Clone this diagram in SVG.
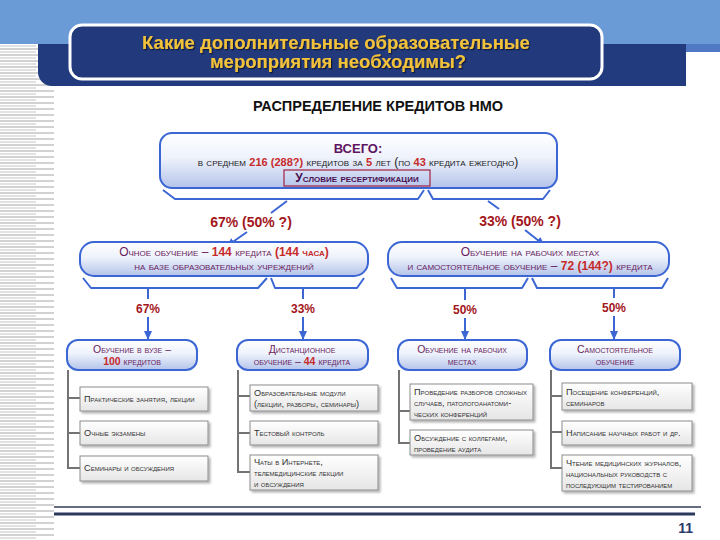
<svg xmlns="http://www.w3.org/2000/svg" width="720" height="540" viewBox="0 0 720 540">
<defs>
<linearGradient id="bg" x1="0" y1="0" x2="0" y2="1">
<stop offset="0" stop-color="#ffffff"/><stop offset="0.45" stop-color="#eef2fb"/><stop offset="1" stop-color="#b3c3ea"/>
</linearGradient>
<linearGradient id="lg" x1="0" y1="0" x2="0" y2="1">
<stop offset="0" stop-color="#ffffff"/><stop offset="1" stop-color="#e6e6e6"/>
</linearGradient>
<pattern id="stripes" width="54" height="6" patternUnits="userSpaceOnUse">
<rect width="54" height="6" fill="#ffffff"/>
<line x1="0" y1="1" x2="54" y2="1" stroke="#a6a6a6" stroke-width="1"/>
<line x1="0" y1="4" x2="36" y2="4" stroke="#c6c6c6" stroke-width="1"/>
</pattern>
<filter id="sh" x="-10%" y="-20%" width="125%" height="150%">
<feDropShadow dx="2" dy="2" stdDeviation="0.8" flood-color="#000" flood-opacity="0.3"/>
</filter>
<filter id="tsh" x="-5%" y="-20%" width="110%" height="150%">
<feDropShadow dx="1.2" dy="1.2" stdDeviation="0.4" flood-color="#0b1430" flood-opacity="0.9"/>
</filter>
<marker id="ah" markerWidth="9" markerHeight="8" refX="8" refY="4" orient="auto" markerUnits="userSpaceOnUse">
<path d="M0,0 L9,4 L0,8 Z" fill="#3b66d4"/>
</marker>
<style>
.t{font-family:"Liberation Sans",Arial,sans-serif}
.sc{font-variant:small-caps}
.box{fill:url(#bg);stroke:#3b66d4;stroke-width:2}
.leaf{fill:url(#lg);stroke:#8c8c8c;stroke-width:1;filter:url(#sh)}
.brace{fill:none;stroke:#3b66d4;stroke-width:2;stroke-linejoin:round}
.arr{stroke:#3b66d4;stroke-width:2;fill:none}
.tree{stroke:#737373;stroke-width:2;fill:none}
.pct{font-weight:bold;fill:#a3161c}
.pu{fill:#6a1d5e}
.rd{fill:#c72a2a;font-weight:bold}
.lt{font-size:9.2px;fill:#333333}
</style>
</defs>

<g id="background">
<rect x="0" y="0" width="720" height="540" fill="#ffffff"/>
<rect x="0" y="0" width="720" height="44" fill="#6b9bd7"/>
<rect x="686" y="44" width="34" height="8" fill="#4f79c4"/>
<rect x="0" y="44" width="54" height="496" fill="url(#stripes)"/>
<path d="M38,44 H686 V86 H52 A14,14 0 0 1 38,72 Z" fill="#223a7e"/>
<rect x="70" y="25" width="532" height="54" rx="12" fill="#223a7c" stroke="#ffffff" stroke-width="3"/>
<g class="t" font-weight="bold" font-size="18.5" fill="#f2c23a" text-anchor="middle" filter="url(#tsh)">
<text x="336" y="49">Какие дополнительные образовательные</text>
<text x="338" y="68">мероприятия необходимы?</text>
</g>
<text class="t" x="378" y="111" text-anchor="middle" font-weight="bold" font-size="14.5" fill="#111111">РАСПРЕДЕЛЕНИЕ КРЕДИТОВ НМО</text>
<line x1="54" y1="507" x2="701" y2="507" stroke="#333d55" stroke-width="1.5"/>
<line x1="54" y1="514" x2="695" y2="514" stroke="#2b3a5c" stroke-width="3"/>
<text class="t" x="693" y="533" text-anchor="end" font-weight="bold" font-size="14" fill="#2a3a6a">11</text>
</g>

<g id="connectors">
<polyline class="brace" points="163,190 175,199 418,199 424,190"/>
<polyline class="brace" points="428,190 433,199 543,199 550,190"/>
<line class="arr" x1="287" y1="201" x2="271" y2="213"/>
<line class="arr" x1="247" y1="232" x2="227" y2="246" marker-end="url(#ah)"/>
<line class="arr" x1="488" y1="201" x2="499" y2="209"/>
<line class="arr" x1="525" y1="230" x2="544" y2="245" marker-end="url(#ah)"/>
<polyline class="brace" points="83,278 91,288 258,288 267,278"/>
<polyline class="brace" points="271,278 275,288 357,288 364,278"/>
<polyline class="brace" points="391,278 397,288 522,288 528,278"/>
<polyline class="brace" points="532,278 537,288 662,288 668,278"/>
<line class="arr" x1="148" y1="288" x2="148" y2="299"/>
<line class="arr" x1="148" y1="317" x2="148" y2="339" marker-end="url(#ah)"/>
<line class="arr" x1="303" y1="288" x2="303" y2="299"/>
<line class="arr" x1="303" y1="317" x2="303" y2="339" marker-end="url(#ah)"/>
<line class="arr" x1="465" y1="288" x2="465" y2="300"/>
<line class="arr" x1="465" y1="318" x2="465" y2="339" marker-end="url(#ah)"/>
<line class="arr" x1="614" y1="288" x2="614" y2="298"/>
<line class="arr" x1="614" y1="316" x2="614" y2="339" marker-end="url(#ah)"/>
<g class="t pct">
<text x="251" y="227" text-anchor="middle" font-size="14">67% (50% ?)</text>
<text x="520" y="226" text-anchor="middle" font-size="14">33% (50% ?)</text>
<text x="148" y="313" text-anchor="middle" font-size="12">67%</text>
<text x="303" y="313" text-anchor="middle" font-size="12">33%</text>
<text x="465" y="314" text-anchor="middle" font-size="12">50%</text>
<text x="614" y="312" text-anchor="middle" font-size="12">50%</text>
</g>
<polyline class="tree" points="68,370 68,468 80,468"/>
<line class="tree" x1="68" y1="398" x2="80" y2="398"/>
<line class="tree" x1="68" y1="433" x2="80" y2="433"/>
<polyline class="tree" points="238,370 238,472 250,472"/>
<line class="tree" x1="238" y1="396" x2="250" y2="396"/>
<line class="tree" x1="238" y1="433" x2="250" y2="433"/>
<polyline class="tree" points="399,370 399,443 411,443"/>
<line class="tree" x1="399" y1="411" x2="411" y2="411"/>
<polyline class="tree" points="551,370 551,468 562,468"/>
<line class="tree" x1="551" y1="396" x2="562" y2="396"/>
<line class="tree" x1="551" y1="432" x2="562" y2="432"/>
</g>

<g id="total">
<rect class="box" x="160" y="133" width="397" height="55" rx="12"/>
<text class="t" x="358" y="153" text-anchor="middle" font-weight="bold" font-size="13" fill="#5e1460">ВСЕГО:</text>
<text class="t sc" x="358" y="166" text-anchor="middle" font-size="12" fill="#1a1a1a">в среднем <tspan class="rd" font-size="11">216 (288?)</tspan> кредитов за <tspan class="rd" font-size="11">5</tspan> лет (по <tspan class="rd" font-size="11">43</tspan> кредита ежегодно)</text>
<rect x="284" y="170" width="146" height="16" fill="none" stroke="#a3203f" stroke-width="1.2"/>
<text class="t sc" x="357" y="182" text-anchor="middle" font-weight="bold" font-size="12" fill="#4a1050">Условие ресертификации</text>
</g>

<g id="fulltime">
<rect class="box" x="80" y="242" width="288" height="34" rx="14"/>
<text class="t sc pu" x="224" y="256" text-anchor="middle" font-size="12">Очное обучение – <tspan class="rd">144</tspan> кредита <tspan class="rd">(144 часа)</tspan></text>
<text class="t sc pu" x="224" y="270" text-anchor="middle" font-size="12">на базе образовательных учреждений</text>
</g>

<g id="workplace">
<rect class="box" x="388" y="242" width="281" height="34" rx="14"/>
<text class="t sc pu" x="530" y="256" text-anchor="middle" font-size="12">Обучение на рабочих местах</text>
<text class="t sc pu" x="530" y="270" text-anchor="middle" font-size="12">и самостоятельное обучение – <tspan class="rd">72 (144?)</tspan> кредита</text>
</g>

<g id="university">
<rect class="box" x="67" y="340" width="130" height="30" rx="11"/>
<text class="t sc pu" x="132" y="353" text-anchor="middle" font-size="10.5">Обучение в вузе –</text>
<text class="t sc pu" x="132" y="365" text-anchor="middle" font-size="10.5"><tspan class="rd">100</tspan> кредитов</text>
</g>

<g id="distance">
<rect class="box" x="237" y="340" width="131" height="30" rx="11"/>
<text class="t sc pu" x="302" y="353" text-anchor="middle" font-size="10.5">Дистанционное</text>
<text class="t sc pu" x="302" y="365" text-anchor="middle" font-size="10.5">обучение – <tspan class="rd">44</tspan> кредита</text>
</g>

<g id="onjob">
<rect class="box" x="398" y="340" width="129" height="30" rx="11"/>
<text class="t sc pu" x="462" y="353" text-anchor="middle" font-size="10.5">Обучение на рабочих</text>
<text class="t sc pu" x="462" y="365" text-anchor="middle" font-size="10.5">местах</text>
</g>

<g id="selfstudy">
<rect class="box" x="550" y="340" width="130" height="30" rx="11"/>
<text class="t sc pu" x="615" y="353" text-anchor="middle" font-size="10.5">Самостоятельное</text>
<text class="t sc pu" x="615" y="365" text-anchor="middle" font-size="10.5">обучение</text>
</g>

<g id="u1"><rect class="leaf" x="80" y="387" width="128" height="24"/>
<text class="t sc lt" x="84" y="402">Практические занятия, лекции</text></g>
<g id="u2"><rect class="leaf" x="80" y="421" width="128" height="24"/>
<text class="t sc lt" x="84" y="436">Очные экзамены</text></g>
<g id="u3"><rect class="leaf" x="80" y="456" width="128" height="25"/>
<text class="t sc lt" x="84" y="471">Семинары и обсуждения</text></g>

<g id="d1"><rect class="leaf" x="250" y="385" width="128" height="26"/>
<text class="t sc lt" x="254" y="396">Образовательные модули</text>
<text class="t sc lt" x="254" y="407">(лекции, разборы, семинары)</text></g>
<g id="d2"><rect class="leaf" x="250" y="421" width="128" height="24"/>
<text class="t sc lt" x="254" y="436">Тестовый контроль</text></g>
<g id="d3"><rect class="leaf" x="250" y="455" width="128" height="35"/>
<text class="t sc lt" x="254" y="465">Чаты в Интернете,</text>
<text class="t sc lt" x="254" y="476">телемедицинские лекции</text>
<text class="t sc lt" x="254" y="487">и обсуждения</text></g>

<g id="w1"><rect class="leaf" x="410" y="384" width="123" height="36"/>
<text class="t sc lt" x="414" y="395">Проведение разборов сложных</text>
<text class="t sc lt" x="414" y="406">случаев, патологоанатоми-</text>
<text class="t sc lt" x="414" y="417">ческих конференций</text></g>
<g id="w2"><rect class="leaf" x="410" y="430" width="123" height="25"/>
<text class="t sc lt" x="414" y="441">Обсуждение с коллегами,</text>
<text class="t sc lt" x="414" y="452">проведение аудита</text></g>

<g id="s1"><rect class="leaf" x="562" y="383" width="130" height="27"/>
<text class="t sc lt" x="566" y="395">Посещение конференций,</text>
<text class="t sc lt" x="566" y="406">семинаров</text></g>
<g id="s2"><rect class="leaf" x="562" y="421" width="130" height="24"/>
<text class="t sc lt" x="566" y="436">Написание научных работ и др.</text></g>
<g id="s3"><rect class="leaf" x="562" y="455" width="130" height="36"/>
<text class="t sc lt" x="566" y="466">Чтение медицинских журналов,</text>
<text class="t sc lt" x="566" y="477">национальных руководств с</text>
<text class="t sc lt" x="566" y="488">последующим тестированием</text></g>
</svg>
